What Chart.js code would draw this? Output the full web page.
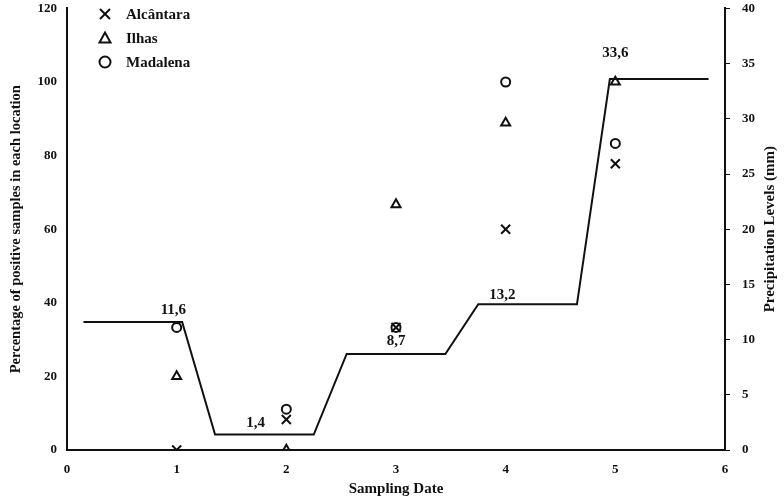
<!DOCTYPE html>
<html>
<head>
<meta charset="utf-8">
<script src="https://cdn.jsdelivr.net/npm/chart.js@4/dist/chart.umd.min.js"></script>
<style>
  html, body { margin: 0; padding: 0; background: #fff; }
  #wrap { width: 784px; height: 498px; }
</style>
</head>
<body>
<div id="wrap"><canvas id="chart" width="784" height="498"></canvas></div>
<script>
// --- Data ---
const samplingDates = [1, 2, 3, 4, 5];
const alcantara = [0, 8.3, 33.3, 60, 77.8];
const ilhas     = [20, 0, 66.7, 88.9, 100];
const madalena  = [33.3, 11.1, 33.3, 100, 83.3];

// precipitation step line (x in sampling-date units, y in mm)
const precipX = [0.15, 1.05, 1.35, 2.25, 2.55, 3.45, 3.75, 4.65, 4.95, 5.85];
const precipY = [11.6, 11.6, 1.4, 1.4, 8.7, 8.7, 13.2, 13.2, 33.6, 33.6];

// precipitation value labels
const precipLabels = ["11,6", "1,4", "8,7", "13,2", "33,6"];
const precipLabelX = [0.97, 1.72, 3.0, 3.97, 5.0];
const precipLabelY = [11.6, 1.4, 8.7, 13.2, 33.6];

const xTicks = [0, 1, 2, 3, 4, 5, 6];
const seriesNames = ["Alcântara", "Ilhas", "Madalena"];
const rightTitle = "Precipitation Levels (mm)";

const FONT = "'Liberation Serif', 'Times New Roman', serif";

const pts = (ys) => samplingDates.map((x, i) => ({ x: x, y: ys[i] }));

// --- little plugin: value labels, legend and right title ---
const extras = {
  id: "extras",
  afterDatasetsDraw(chart) {
    const ctx = chart.ctx;
    const xs = chart.scales.x, yr = chart.scales.y2;
    const lift = [12, 11, 13, 9, 26];
    ctx.save();
    ctx.fillStyle = "#111";
    ctx.font = "bold 15px " + FONT;
    ctx.textAlign = "center";
    ctx.textBaseline = "middle";
    precipLabels.forEach((t, i) => {
      ctx.fillText(t, xs.getPixelForValue(precipLabelX[i]), yr.getPixelForValue(precipLabelY[i]) - lift[i]);
    });

    // right axis title, reading bottom-to-top like the left one
    ctx.save();
    ctx.translate(770, (chart.chartArea.top + chart.chartArea.bottom) / 2);
    ctx.rotate(-Math.PI / 2);
    ctx.font = "bold 15px " + FONT;
    ctx.fillText(rightTitle, 0, 0);
    ctx.restore();

    // legend
    const lx = 105, ly0 = 14, step = 24;
    ctx.strokeStyle = "#111";
    ctx.lineWidth = 2;
    ctx.textAlign = "left";
    ctx.font = "bold 15px " + FONT;
    seriesNames.forEach((name, i) => {
      const y = ly0 + i * step;
      ctx.beginPath();
      if (i === 0) {
        ctx.moveTo(lx - 5, y - 5); ctx.lineTo(lx + 5, y + 5);
        ctx.moveTo(lx + 5, y - 5); ctx.lineTo(lx - 5, y + 5);
      } else if (i === 1) {
        ctx.moveTo(lx, y - 5.5); ctx.lineTo(lx + 5.5, y + 4.5); ctx.lineTo(lx - 5.5, y + 4.5); ctx.closePath();
      } else {
        ctx.arc(lx, y, 5.5, 0, Math.PI * 2);
      }
      ctx.stroke();
      ctx.fillText(name, lx + 21, y + 1);
    });
    ctx.restore();
  }
};

const marker = (style, r) => ({
  type: "scatter",
  pointStyle: style,
  pointRadius: r,
  pointHoverRadius: r,
  borderColor: "#111",
  backgroundColor: "rgba(0,0,0,0)",
  pointBorderWidth: 2,
  yAxisID: "y"
});

// pin the vertical axes so the plot top sits where the figure's does
const fitVertical = (w) => (s) => { s.width = w; s.paddingTop = 0; s.paddingBottom = 0; };

new Chart(document.getElementById("chart"), {
  type: "scatter",
  data: {
    datasets: [
      { label: "Precipitation", type: "line", data: precipX.map((x, i) => ({ x: x, y: precipY[i] })),
        yAxisID: "y2", borderColor: "#111", borderWidth: 2, pointRadius: 0, tension: 0, fill: false },
      Object.assign({ label: seriesNames[0], data: pts(alcantara) }, marker("crossRot", 6.4)),
      Object.assign({ label: seriesNames[1], data: pts(ilhas) }, marker("triangle", 5.2)),
      Object.assign({ label: seriesNames[2], data: pts(madalena) }, marker("circle", 4.5))
    ]
  },
  options: {
    responsive: false,
    animation: false,
    layout: { padding: { top: 8, right: 0, left: 0, bottom: 0 } },
    plugins: { legend: { display: false }, tooltip: { enabled: false } },
    scales: {
      x: {
        type: "linear", min: 0, max: 6,
        afterBuildTicks: (s) => { s.ticks = xTicks.map(v => ({ value: v })); },
        grid: { display: false },
        border: { display: true, color: "#111", width: 2 },
        ticks: { color: "#111", padding: 4, font: { family: FONT, weight: "bold", size: 13 } },
        title: { display: true, text: "Sampling Date", color: "#111", padding: { top: 2, bottom: 0 },
                 font: { family: FONT, weight: "bold", size: 15 } },
        afterFit: (s) => { s.height = 48; }
      },
      y: {
        position: "left", min: 0, max: 120,
        ticks: { stepSize: 20, color: "#111", padding: 2, font: { family: FONT, weight: "bold", size: 13 } },
        grid: { display: false },
        border: { display: true, color: "#111", width: 2 },
        title: { display: true, text: "Percentage of positive samples in each location", color: "#111",
                 padding: { top: 8, bottom: 0 }, font: { family: FONT, weight: "bold", size: 14.5 } },
        afterFit: fitVertical(67)
      },
      y2: {
        position: "right", min: 0, max: 40,
        ticks: { stepSize: 5, color: "#111", padding: 12, font: { family: FONT, weight: "bold", size: 13 } },
        grid: { display: true, drawOnChartArea: false, drawTicks: true, tickLength: 5, color: "#111", lineWidth: 1 },
        border: { display: true, color: "#111", width: 2 },
        title: { display: false },
        afterFit: fitVertical(59)
      }
    }
  },
  plugins: [extras]
});
</script>
</body>
</html>
